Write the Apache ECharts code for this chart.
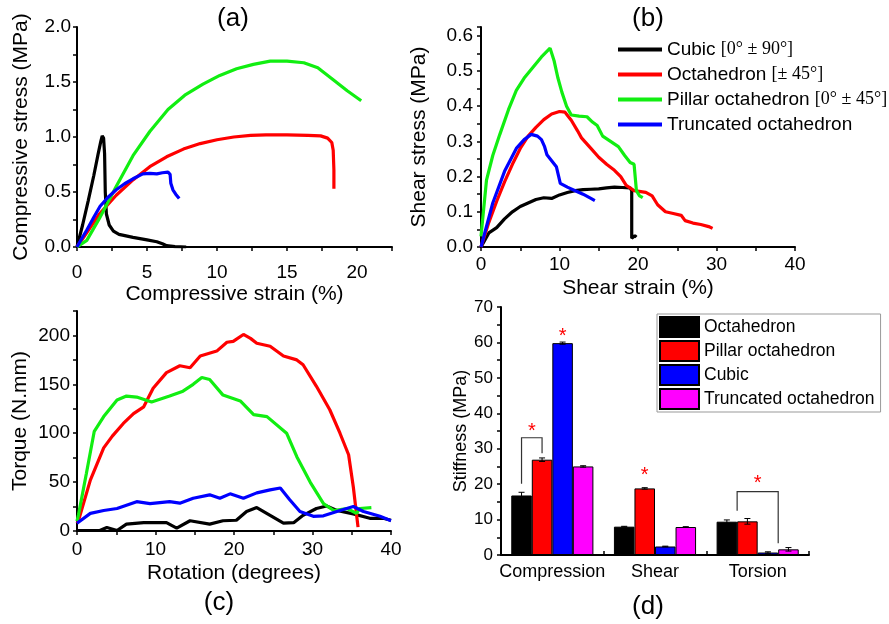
<!DOCTYPE html>
<html>
<head>
<meta charset="utf-8">
<script src="https://cdn.jsdelivr.net/npm/echarts@6/dist/echarts.min.js"></script>
<style>
  html, body { margin: 0; padding: 0; background: #fff; }
  #main { width: 889px; height: 624px; }
</style>
</head>
<body>
<div id="main"></div>
<script>
// (a) compressive stress (MPa) vs compressive strain (%)
let aCubic = [[0,0],[0.4,0.2],[0.8,0.42],[1.2,0.65],[1.5,0.84],[1.7,0.96],[1.8,1.01],[1.9,0.99],[1.97,0.85],[2.02,0.5],[2.1,0.3],[2.3,0.2],[2.6,0.145],[3,0.115],[4,0.088],[5,0.065],[5.7,0.048],[6.1,0.03],[6.4,0.012],[7,0.004],[7.8,0]];
let aOcta = [[0,0],[0.8,0.15],[1.6,0.3],[2.8,0.47],[4,0.61],[5.2,0.73],[6.4,0.82],[7.6,0.89],[8.8,0.94],[10,0.975],[11.2,1.0],[12.4,1.015],[13.5,1.02],[15,1.02],[16.5,1.015],[17.4,1.01],[17.9,0.99],[18.2,0.95],[18.3,0.88],[18.35,0.7],[18.35,0.53]];
let aPillar = [[0,0],[0.7,0.06],[1.6,0.26],[2.8,0.55],[4,0.83],[5.2,1.05],[6.5,1.25],[7.7,1.38],[9,1.48],[10.2,1.56],[11.4,1.62],[12.6,1.66],[13.8,1.69],[15,1.69],[16.2,1.675],[17.2,1.63],[18.3,1.52],[19.3,1.42],[20.3,1.33]];
let aTrunc = [[0,0],[0.35,0.08],[0.7,0.155],[1.2,0.27],[1.65,0.37],[2.2,0.45],[2.8,0.52],[3.4,0.575],[4,0.62],[4.7,0.665],[5.2,0.67],[5.7,0.665],[6.1,0.675],[6.5,0.68],[6.65,0.66],[6.7,0.58],[6.85,0.52],[7.05,0.48],[7.3,0.44]];

// (b) shear stress (MPa) vs shear strain (%)
let bCubic = [[0,0],[0.5,0.02],[1,0.04],[2,0.055],[3,0.08],[4,0.1],[5,0.115],[6,0.125],[7,0.135],[8,0.14],[9,0.138],[10,0.148],[11,0.155],[12,0.16],[13,0.163],[14,0.164],[15,0.165],[16,0.168],[17,0.17],[18,0.169],[19,0.168],[19.2,0.16],[19.2,0.08],[19.2,0.025],[19.6,0.032],[19.8,0.028]];
let bOcta = [[0,0],[1,0.07],[2,0.13],[3,0.185],[4,0.235],[5,0.28],[6,0.315],[7,0.34],[8,0.362],[9,0.378],[10,0.385],[10.7,0.383],[11.5,0.36],[12.3,0.33],[12.8,0.31],[14,0.28],[15,0.255],[16,0.235],[17,0.218],[17.8,0.2],[18.5,0.175],[19.5,0.16],[21,0.155],[21.8,0.145],[22.5,0.12],[23.5,0.1],[24.5,0.095],[25.5,0.09],[26,0.075],[27,0.068],[28,0.064],[29,0.058],[29.5,0.053]];
let bPillar = [[0,0.03],[0.7,0.19],[1.5,0.26],[2.4,0.32],[3.5,0.39],[4.5,0.445],[5.5,0.48],[6.6,0.51],[7.7,0.54],[8.8,0.565],[9.3,0.53],[9.8,0.48],[10.3,0.44],[10.9,0.4],[11.5,0.375],[12.5,0.372],[13.5,0.37],[14.2,0.355],[14.8,0.345],[15.5,0.315],[16.5,0.3],[17.5,0.285],[18.3,0.26],[19,0.24],[19.5,0.235],[19.8,0.16],[20.2,0.145],[20.6,0.14]];
let bTrunc = [[0,0],[1.5,0.125],[3,0.215],[4.5,0.28],[5.5,0.305],[6.4,0.32],[7.2,0.315],[7.7,0.305],[8.1,0.285],[8.4,0.262],[9,0.245],[9.6,0.228],[9.9,0.2],[10.1,0.181],[11,0.17],[12,0.16],[13,0.15],[14,0.138],[14.5,0.132]];

// (c) torque (N.mm) vs rotation (degrees)
let cCubic = [[0,0.5],[2.9,0.5],[3.8,3.5],[5.1,0.5],[6.3,7],[8.5,8.5],[11.4,8.5],[12.7,3],[14.4,10.5],[16.9,7],[18.6,10.5],[20.3,11],[21.6,20],[22.9,24],[24.6,16],[26.3,8],[27.6,8.5],[28.8,16],[30.5,23],[31.8,25.5],[33.1,21],[35.2,17.5],[37.3,13],[39,13],[40,11]];
let cOcta = [[0,8],[0.2,11],[1.7,52],[3.4,85],[4.5,97],[5.9,110],[7.2,120],[8.5,127],[9.7,146],[11.4,162],[13.1,169],[14.4,167],[15.7,179],[17.8,184],[19.1,193],[19.9,194],[21.2,201],[22.1,197],[22.9,192],[24.6,189],[26.3,179],[28,175],[28.8,170],[30.5,148],[32.2,124],[33.5,100],[34.6,78],[35.2,45],[35.8,4]];
let cPillar = [[0,10],[0.2,17],[1.2,59],[2.2,102],[3.4,117],[5.1,134],[6.3,138],[7.6,137],[9.5,132],[11.8,138],[13.5,143],[14.8,150],[15.9,157],[16.9,155],[18.6,139],[20.8,133],[22.5,119],[24.2,117],[26.7,100],[28,76],[29.7,50],[31.4,28],[32.7,21],[34.4,23],[35.6,18],[36,23],[37.5,24]];
let cTrunc = [[0,8],[0.2,8],[1.7,18],[3.4,21],[5.1,23],[7.6,30],[9.3,28],[11.8,30],[13.1,28.5],[14.8,33.5],[16.9,37],[18.2,33.5],[19.5,38],[21.2,33.5],[22.9,39],[24.6,42],[25.9,44],[27.1,32],[28.4,20],[30.1,15],[31.4,15.5],[33.1,20],[35.2,25],[36.5,20],[38.6,15],[40,10.5]];

// (d) stiffness (MPa)
let categories = ['Compression', 'Shear', 'Torsion'];
let dOcta = [16.8, 8.0, 9.4];
let dPillar = [26.9, 18.8, 9.5];
let dCubic = [59.8, 2.4, 0.7];
let dTrunc = [25.0, 7.9, 1.6];
let dOctaErr = [0.9, 0.1, 0.5];
let dPillarErr = [0.5, 0.2, 0.8];
let dCubicErr = [0.3, 0.1, 0.2];
let dTruncErr = [0.2, 0.1, 0.5];
// significance marks: [category, bar position, y]
let sigStars = [[0, 0.5, 36], [0, 2, 62.7], [1, 1, 23.7], [2, 1.5, 21.2]];
// brackets: [category, from bar pos, to bar pos, left end y, top y, right end y]
let sigBrackets = [[0, 0, 1, 20.1, 33.1, 28.7], [2, 0.5, 2.5, 12.5, 17.9, 3.3]];

let FONT = 'Liberation Sans';
let BLACK = '#000000', RED = '#ff0000', GREEN = '#11ee11', BLUE = '#0000ff', MAGENTA = '#ff00ff';

let legendText = {
    'Cubic': '{s|Cubic }{t|[0° ± 90°]}',
    'Octahedron': '{s|Octahedron }{t|[± 45°]}',
    'Pillar octahedron': '{s|Pillar octahedron }{t|[0° ± 45°]}',
    'Truncated octahedron': '{s|Truncated octahedron}'
};

function valueAxis(grid, max, step, major, digits, margin, name, nameGap, extra) {
    return Object.assign({
        type: 'value', gridIndex: grid, min: 0, max: max, interval: step,
        splitLine: {show: false},
        axisLine: {show: true, onZero: false, lineStyle: {color: '#000', width: 2}},
        axisTick: {show: true, length: 4, lineStyle: {color: '#000', width: 1.5}},
        axisLabel: {
            color: '#000', fontSize: 19, fontFamily: FONT, margin: margin,
            formatter: function (v) {
                let k = v / major;
                if (Math.abs(k - Math.round(k)) > 1e-6) return '';
                return v.toFixed(digits);
            }
        },
        name: name, nameLocation: 'middle', nameGap: nameGap,
        nameTextStyle: {color: '#000', fontSize: 21, fontFamily: FONT}
    }, extra || {});
}

function lineSeries(name, color, data, idx) {
    return {
        type: 'line', name: name, data: data, xAxisIndex: idx, yAxisIndex: idx,
        showSymbol: false, symbol: 'none', color: color,
        lineStyle: {color: color, width: 3.2}, z: 3
    };
}

function barX(api, cat, pos) {
    let band = api.size([1, 0])[0];
    let w = band * 0.8 / 4;
    return api.coord([cat, 0])[0] + (pos - 1.5) * w;
}

let errData = [];
[[dOcta, dOctaErr], [dPillar, dPillarErr], [dCubic, dCubicErr], [dTrunc, dTruncErr]].forEach(function (p, s) {
    p[0].forEach(function (v, c) { errData.push([c, s, v, p[1][c]]); });
});

let chart = echarts.init(document.getElementById('main'), null, {renderer: 'canvas'});

let option = {
    animation: false,
    backgroundColor: '#fff',
    textStyle: {fontFamily: FONT},
    grid: [
        {left: 77, top: 27, width: 315, height: 220},
        {left: 481, top: 27, width: 314, height: 220},
        {left: 77, top: 311, width: 314, height: 220},
        {left: 501, top: 307, width: 308, height: 248}
    ],
    xAxis: [
        valueAxis(0, 22.5, 2.5, 5, 0, 16, 'Compressive strain (%)', 37),
        valueAxis(1, 40, 5, 10, 0, 8, 'Shear strain (%)', 31),
        valueAxis(2, 40, 5, 10, 0, 9, 'Rotation (degrees)', 32),
        {
            type: 'category', gridIndex: 3, data: categories,
            axisLine: {lineStyle: {color: '#000', width: 2}},
            axisTick: {show: true, inside: true, length: 4, lineStyle: {color: '#000', width: 1.5}},
            axisLabel: {color: '#000', fontSize: 18, fontFamily: FONT, margin: 8, interval: 0, hideOverlap: false}
        }
    ],
    yAxis: [
        valueAxis(0, 2, 0.25, 0.5, 1, 6, 'Compressive stress (MPa)', 45),
        valueAxis(1, 0.625, 0.05, 0.1, 1, 8, 'Shear stress (MPa)', 51),
        valueAxis(2, 225, 25, 50, 0, 7, 'Torque (N.mm)', 46),
        valueAxis(3, 70, 5, 10, 0, 8, 'Stiffness (MPa)', 30, {
            axisLabel: {
                color: '#000', fontSize: 17, fontFamily: FONT, margin: 8,
                formatter: function (v) { return v % 10 === 0 ? String(v) : ''; }
            },
            nameTextStyle: {color: '#000', fontSize: 18, fontFamily: FONT}
        })
    ],
    legend: [
        {
            data: ['Cubic', 'Octahedron', 'Pillar octahedron', 'Truncated octahedron'],
            orient: 'vertical', left: 618, top: 40, icon: 'rect',
            itemWidth: 44, itemHeight: 4, itemGap: 6, padding: 0,
            selectedMode: false,
            formatter: function (name) { return legendText[name]; },
            textStyle: {
                color: '#000', fontSize: 19, fontFamily: FONT,
                rich: {
                    s: {color: '#000', fontSize: 19, fontFamily: FONT, lineHeight: 20},
                    t: {color: '#000', fontSize: 18, fontFamily: 'Liberation Serif', lineHeight: 20}
                }
            }
        },
        {
            data: ['d:Octahedron', 'd:Pillar octahedron', 'd:Cubic', 'd:Truncated octahedron'],
            orient: 'vertical', left: 657, top: 314, icon: 'rect',
            itemWidth: 39, itemHeight: 20, itemGap: 2, padding: [2, 6, 2, 2],
            borderColor: '#999', borderWidth: 1,
            selectedMode: false,
            formatter: function (name) { return name.replace('d:', ''); },
            textStyle: {color: '#000', fontSize: 17.5, fontFamily: FONT, lineHeight: 20}
        }
    ],
    graphic: [
        {type: 'text', x: 233, y: 19, style: {text: '(a)', fontSize: 26, fontFamily: FONT, fill: '#000', align: 'center', verticalAlign: 'middle'}},
        {type: 'text', x: 648, y: 19, style: {text: '(b)', fontSize: 26, fontFamily: FONT, fill: '#000', align: 'center', verticalAlign: 'middle'}},
        {type: 'text', x: 219, y: 603, style: {text: '(c)', fontSize: 26, fontFamily: FONT, fill: '#000', align: 'center', verticalAlign: 'middle'}},
        {type: 'text', x: 648, y: 607, style: {text: '(d)', fontSize: 26, fontFamily: FONT, fill: '#000', align: 'center', verticalAlign: 'middle'}}
    ],
    series: [
        lineSeries('Cubic', BLACK, aCubic, 0),
        lineSeries('Octahedron', RED, aOcta, 0),
        lineSeries('Pillar octahedron', GREEN, aPillar, 0),
        lineSeries('Truncated octahedron', BLUE, aTrunc, 0),
        lineSeries('Cubic', BLACK, bCubic, 1),
        lineSeries('Octahedron', RED, bOcta, 1),
        lineSeries('Pillar octahedron', GREEN, bPillar, 1),
        lineSeries('Truncated octahedron', BLUE, bTrunc, 1),
        lineSeries('Cubic', BLACK, cCubic, 2),
        lineSeries('Octahedron', RED, cOcta, 2),
        lineSeries('Pillar octahedron', GREEN, cPillar, 2),
        lineSeries('Truncated octahedron', BLUE, cTrunc, 2)
    ]
};

[['d:Octahedron', BLACK, dOcta], ['d:Pillar octahedron', RED, dPillar], ['d:Cubic', BLUE, dCubic], ['d:Truncated octahedron', MAGENTA, dTrunc]].forEach(function (b) {
    option.series.push({
        type: 'bar', name: b[0], data: b[2], xAxisIndex: 3, yAxisIndex: 3,
        barGap: '0%', barCategoryGap: '20%', color: b[1],
        itemStyle: {color: b[1], borderColor: '#000', borderWidth: 1}
    });
});

// error bars
option.series.push({
    type: 'custom', xAxisIndex: 3, yAxisIndex: 3, data: errData, z: 5,
    renderItem: function (params, api) {
        let x = barX(api, api.value(0), api.value(1));
        let v = api.value(2), e = api.value(3);
        let lo = api.coord([api.value(0), v - e])[1];
        let hi = api.coord([api.value(0), v + e])[1];
        let st = {stroke: '#000', lineWidth: 1};
        return {type: 'group', children: [
            {type: 'line', shape: {x1: x, y1: lo, x2: x, y2: hi}, style: st},
            {type: 'line', shape: {x1: x - 3, y1: lo, x2: x + 3, y2: lo}, style: st},
            {type: 'line', shape: {x1: x - 3, y1: hi, x2: x + 3, y2: hi}, style: st}
        ]};
    }
});

// significance brackets
option.series.push({
    type: 'custom', xAxisIndex: 3, yAxisIndex: 3, data: sigBrackets, z: 5,
    renderItem: function (params, api) {
        let c = api.value(0);
        let xl = barX(api, c, api.value(1)), xr = barX(api, c, api.value(2));
        let yl = api.coord([c, api.value(3)])[1];
        let yt = api.coord([c, api.value(4)])[1];
        let yr = api.coord([c, api.value(5)])[1];
        return {type: 'polyline', shape: {points: [[xl, yl], [xl, yt], [xr, yt], [xr, yr]]},
            style: {stroke: '#333', lineWidth: 1.2, fill: null}};
    }
});

// significance stars
option.series.push({
    type: 'custom', xAxisIndex: 3, yAxisIndex: 3, data: sigStars, z: 5,
    renderItem: function (params, api) {
        let c = api.value(0);
        let x = barX(api, c, api.value(1));
        let y = api.coord([c, api.value(2)])[1];
        return {type: 'text', x: x, y: y + 4,
            style: {text: '*', fill: '#ff0000', fontSize: 20, fontFamily: FONT, align: 'center', verticalAlign: 'middle'}};
    }
});

chart.setOption(option);
</script>
</body>
</html>
